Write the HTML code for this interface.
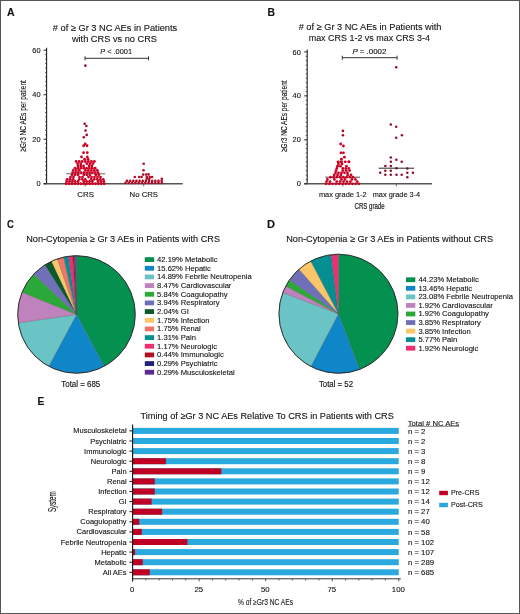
<!DOCTYPE html>
<html><head><meta charset="utf-8"><style>
html,body{margin:0;padding:0;background:#fff;}
svg{display:block;font-family:"Liberation Sans", sans-serif;will-change:transform;}
text:not([stroke]){stroke:#151515;stroke-width:0.12px;}
</style></head><body>
<svg width="520" height="614" viewBox="0 0 520 614">
<rect width="520" height="614" fill="#fff"/>
<rect x="0.5" y="0.5" width="519" height="613" fill="none" stroke="#555" stroke-width="1"/>
<text x="7.00" y="16.20" font-size="11" textLength="7.60" lengthAdjust="spacingAndGlyphs" font-weight="bold" fill="#111">A</text>
<text x="267.50" y="16.00" font-size="11" textLength="7.50" lengthAdjust="spacingAndGlyphs" font-weight="bold" fill="#111">B</text>
<text x="7.00" y="228.00" font-size="11" textLength="6.90" lengthAdjust="spacingAndGlyphs" font-weight="bold" fill="#111">C</text>
<text x="267.00" y="228.00" font-size="11" textLength="8.00" lengthAdjust="spacingAndGlyphs" font-weight="bold" fill="#111">D</text>
<text x="37.50" y="405.00" font-size="11" textLength="6.80" lengthAdjust="spacingAndGlyphs" font-weight="bold" fill="#111">E</text>
<text x="52.80" y="30.80" font-size="9.2" textLength="124.40" lengthAdjust="spacingAndGlyphs" fill="#151515"># of ≥ Gr 3 NC AEs in Patients</text>
<text x="71.90" y="41.60" font-size="9.2" textLength="85.10" lengthAdjust="spacingAndGlyphs" fill="#151515">with CRS vs no CRS</text>
<text x="298.70" y="30.40" font-size="9.2" textLength="142.80" lengthAdjust="spacingAndGlyphs" fill="#151515"># of ≥ Gr 3 NC AEs in Patients with</text>
<text x="308.70" y="41.20" font-size="9.2" textLength="121.30" lengthAdjust="spacingAndGlyphs" fill="#151515">max CRS 1-2 vs max CRS 3-4</text>
<text x="26.25" y="242.20" font-size="9.2" textLength="193.75" lengthAdjust="spacingAndGlyphs" fill="#151515">Non-Cytopenia ≥ Gr 3 AEs in Patients with CRS</text>
<text x="286.25" y="242.20" font-size="9.2" textLength="206.75" lengthAdjust="spacingAndGlyphs" fill="#151515">Non-Cytopenia ≥ Gr 3 AEs in Patients without CRS</text>
<text x="140.50" y="418.80" font-size="9.2" textLength="253.25" lengthAdjust="spacingAndGlyphs" fill="#151515">Timing of ≥Gr 3 NC AEs Relative To CRS in Patients with CRS</text>
<line x1="46.6" y1="47.70" x2="46.6" y2="183.75" stroke="#222" stroke-width="1.1"/>
<line x1="43.60" y1="183.75" x2="182.70" y2="183.75" stroke="#555" stroke-width="1.5"/>
<line x1="43.60" y1="183.75" x2="46.6" y2="183.75" stroke="#222" stroke-width="1"/>
<text x="40.60" y="186.35" font-size="7.4" text-anchor="end" fill="#151515">0</text>
<line x1="43.60" y1="139.23" x2="46.6" y2="139.23" stroke="#222" stroke-width="1"/>
<text x="40.60" y="141.83" font-size="7.4" text-anchor="end" fill="#151515">20</text>
<line x1="43.60" y1="94.72" x2="46.6" y2="94.72" stroke="#222" stroke-width="1"/>
<text x="40.60" y="97.32" font-size="7.4" text-anchor="end" fill="#151515">40</text>
<line x1="43.60" y1="50.20" x2="46.6" y2="50.20" stroke="#222" stroke-width="1"/>
<text x="40.60" y="52.80" font-size="7.4" text-anchor="end" fill="#151515">60</text>
<line x1="45.10" y1="179.30" x2="46.6" y2="179.30" stroke="#333" stroke-width="0.8"/>
<line x1="45.10" y1="174.85" x2="46.6" y2="174.85" stroke="#333" stroke-width="0.8"/>
<line x1="45.10" y1="170.40" x2="46.6" y2="170.40" stroke="#333" stroke-width="0.8"/>
<line x1="45.10" y1="165.94" x2="46.6" y2="165.94" stroke="#333" stroke-width="0.8"/>
<line x1="45.10" y1="161.49" x2="46.6" y2="161.49" stroke="#333" stroke-width="0.8"/>
<line x1="45.10" y1="157.04" x2="46.6" y2="157.04" stroke="#333" stroke-width="0.8"/>
<line x1="45.10" y1="152.59" x2="46.6" y2="152.59" stroke="#333" stroke-width="0.8"/>
<line x1="45.10" y1="148.14" x2="46.6" y2="148.14" stroke="#333" stroke-width="0.8"/>
<line x1="45.10" y1="143.69" x2="46.6" y2="143.69" stroke="#333" stroke-width="0.8"/>
<line x1="45.10" y1="134.78" x2="46.6" y2="134.78" stroke="#333" stroke-width="0.8"/>
<line x1="45.10" y1="130.33" x2="46.6" y2="130.33" stroke="#333" stroke-width="0.8"/>
<line x1="45.10" y1="125.88" x2="46.6" y2="125.88" stroke="#333" stroke-width="0.8"/>
<line x1="45.10" y1="121.43" x2="46.6" y2="121.43" stroke="#333" stroke-width="0.8"/>
<line x1="45.10" y1="116.97" x2="46.6" y2="116.97" stroke="#333" stroke-width="0.8"/>
<line x1="45.10" y1="112.52" x2="46.6" y2="112.52" stroke="#333" stroke-width="0.8"/>
<line x1="45.10" y1="108.07" x2="46.6" y2="108.07" stroke="#333" stroke-width="0.8"/>
<line x1="45.10" y1="103.62" x2="46.6" y2="103.62" stroke="#333" stroke-width="0.8"/>
<line x1="45.10" y1="99.17" x2="46.6" y2="99.17" stroke="#333" stroke-width="0.8"/>
<line x1="45.10" y1="90.26" x2="46.6" y2="90.26" stroke="#333" stroke-width="0.8"/>
<line x1="45.10" y1="85.81" x2="46.6" y2="85.81" stroke="#333" stroke-width="0.8"/>
<line x1="45.10" y1="81.36" x2="46.6" y2="81.36" stroke="#333" stroke-width="0.8"/>
<line x1="45.10" y1="76.91" x2="46.6" y2="76.91" stroke="#333" stroke-width="0.8"/>
<line x1="45.10" y1="72.46" x2="46.6" y2="72.46" stroke="#333" stroke-width="0.8"/>
<line x1="45.10" y1="68.01" x2="46.6" y2="68.01" stroke="#333" stroke-width="0.8"/>
<line x1="45.10" y1="63.55" x2="46.6" y2="63.55" stroke="#333" stroke-width="0.8"/>
<line x1="45.10" y1="59.10" x2="46.6" y2="59.10" stroke="#333" stroke-width="0.8"/>
<line x1="45.10" y1="54.65" x2="46.6" y2="54.65" stroke="#333" stroke-width="0.8"/>
<line x1="85.30" y1="183.75" x2="85.30" y2="186.25" stroke="#444" stroke-width="0.8"/>
<line x1="143.70" y1="183.75" x2="143.70" y2="186.25" stroke="#444" stroke-width="0.8"/>
<text transform="translate(26.20,115.90) rotate(-90)" x="0" y="0" font-size="9.3" text-anchor="middle" textLength="71.5" lengthAdjust="spacingAndGlyphs" fill="#151515" stroke="#151515" stroke-width="0.15">≥Gr3 NC AEs per patient</text>
<g stroke="#333" stroke-width="1"><line x1="85" y1="58.3" x2="148.5" y2="58.3"/><line x1="85" y1="56.3" x2="85" y2="60.3"/><line x1="148.5" y1="56.3" x2="148.5" y2="60.3"/></g>
<text x="100.2" y="53.9" font-size="7.4" textLength="31.8" lengthAdjust="spacingAndGlyphs" fill="#151515"><tspan font-style="italic">P</tspan> &lt; .0001</text>
<text x="85.60" y="196.90" font-size="7.8" text-anchor="middle" textLength="16.70" lengthAdjust="spacingAndGlyphs" fill="#151515">CRS</text>
<text x="143.80" y="196.90" font-size="7.8" text-anchor="middle" textLength="28.40" lengthAdjust="spacingAndGlyphs" fill="#151515">No CRS</text>
<line x1="66.2" y1="173.8" x2="105.2" y2="173.8" stroke="#666" stroke-width="1"/>
<circle cx="66.20" cy="183.75" r="1.4" fill="#cc0022"/>
<circle cx="69.12" cy="183.75" r="1.4" fill="#cc0022"/>
<circle cx="72.05" cy="183.75" r="1.4" fill="#cc0022"/>
<circle cx="74.97" cy="183.75" r="1.4" fill="#cc0022"/>
<circle cx="77.89" cy="183.75" r="1.4" fill="#cc0022"/>
<circle cx="80.82" cy="183.75" r="1.4" fill="#cc0022"/>
<circle cx="83.74" cy="183.75" r="1.4" fill="#cc0022"/>
<circle cx="86.66" cy="183.75" r="1.4" fill="#cc0022"/>
<circle cx="89.58" cy="183.75" r="1.4" fill="#cc0022"/>
<circle cx="92.51" cy="183.75" r="1.4" fill="#cc0022"/>
<circle cx="95.43" cy="183.75" r="1.4" fill="#cc0022"/>
<circle cx="98.35" cy="183.75" r="1.4" fill="#cc0022"/>
<circle cx="101.28" cy="183.75" r="1.4" fill="#cc0022"/>
<circle cx="104.20" cy="183.75" r="1.4" fill="#cc0022"/>
<circle cx="66.60" cy="181.52" r="1.4" fill="#cc0022"/>
<circle cx="69.46" cy="181.52" r="1.4" fill="#cc0022"/>
<circle cx="72.32" cy="181.52" r="1.4" fill="#cc0022"/>
<circle cx="75.18" cy="181.52" r="1.4" fill="#cc0022"/>
<circle cx="78.05" cy="181.52" r="1.4" fill="#cc0022"/>
<circle cx="83.77" cy="181.52" r="1.4" fill="#cc0022"/>
<circle cx="86.63" cy="181.52" r="1.4" fill="#cc0022"/>
<circle cx="89.49" cy="181.52" r="1.4" fill="#cc0022"/>
<circle cx="92.35" cy="181.52" r="1.4" fill="#cc0022"/>
<circle cx="98.08" cy="181.52" r="1.4" fill="#cc0022"/>
<circle cx="100.94" cy="181.52" r="1.4" fill="#cc0022"/>
<circle cx="103.80" cy="181.52" r="1.4" fill="#cc0022"/>
<circle cx="67.20" cy="179.30" r="1.4" fill="#cc0022"/>
<circle cx="70.20" cy="179.30" r="1.4" fill="#cc0022"/>
<circle cx="73.20" cy="179.30" r="1.4" fill="#cc0022"/>
<circle cx="79.20" cy="179.30" r="1.4" fill="#cc0022"/>
<circle cx="82.20" cy="179.30" r="1.4" fill="#cc0022"/>
<circle cx="85.20" cy="179.30" r="1.4" fill="#cc0022"/>
<circle cx="91.20" cy="179.30" r="1.4" fill="#cc0022"/>
<circle cx="94.20" cy="179.30" r="1.4" fill="#cc0022"/>
<circle cx="97.20" cy="179.30" r="1.4" fill="#cc0022"/>
<circle cx="100.20" cy="179.30" r="1.4" fill="#cc0022"/>
<circle cx="103.20" cy="179.30" r="1.4" fill="#cc0022"/>
<circle cx="70.50" cy="177.07" r="1.4" fill="#cc0022"/>
<circle cx="73.50" cy="177.07" r="1.4" fill="#cc0022"/>
<circle cx="79.50" cy="177.07" r="1.4" fill="#cc0022"/>
<circle cx="82.50" cy="177.07" r="1.4" fill="#cc0022"/>
<circle cx="88.50" cy="177.07" r="1.4" fill="#cc0022"/>
<circle cx="91.50" cy="177.07" r="1.4" fill="#cc0022"/>
<circle cx="94.50" cy="177.07" r="1.4" fill="#cc0022"/>
<circle cx="97.50" cy="177.07" r="1.4" fill="#cc0022"/>
<circle cx="100.50" cy="177.07" r="1.4" fill="#cc0022"/>
<circle cx="72.00" cy="174.85" r="1.4" fill="#cc0022"/>
<circle cx="74.98" cy="174.85" r="1.4" fill="#cc0022"/>
<circle cx="77.96" cy="174.85" r="1.4" fill="#cc0022"/>
<circle cx="83.91" cy="174.85" r="1.4" fill="#cc0022"/>
<circle cx="86.89" cy="174.85" r="1.4" fill="#cc0022"/>
<circle cx="89.87" cy="174.85" r="1.4" fill="#cc0022"/>
<circle cx="95.82" cy="174.85" r="1.4" fill="#cc0022"/>
<circle cx="98.80" cy="174.85" r="1.4" fill="#cc0022"/>
<circle cx="72.60" cy="172.62" r="1.4" fill="#cc0022"/>
<circle cx="75.42" cy="172.62" r="1.4" fill="#cc0022"/>
<circle cx="78.24" cy="172.62" r="1.4" fill="#cc0022"/>
<circle cx="81.07" cy="172.62" r="1.4" fill="#cc0022"/>
<circle cx="83.89" cy="172.62" r="1.4" fill="#cc0022"/>
<circle cx="86.71" cy="172.62" r="1.4" fill="#cc0022"/>
<circle cx="89.53" cy="172.62" r="1.4" fill="#cc0022"/>
<circle cx="92.36" cy="172.62" r="1.4" fill="#cc0022"/>
<circle cx="95.18" cy="172.62" r="1.4" fill="#cc0022"/>
<circle cx="98.00" cy="172.62" r="1.4" fill="#cc0022"/>
<circle cx="73.30" cy="170.40" r="1.4" fill="#cc0022"/>
<circle cx="76.30" cy="170.40" r="1.4" fill="#cc0022"/>
<circle cx="79.30" cy="170.40" r="1.4" fill="#cc0022"/>
<circle cx="85.30" cy="170.40" r="1.4" fill="#cc0022"/>
<circle cx="88.30" cy="170.40" r="1.4" fill="#cc0022"/>
<circle cx="91.30" cy="170.40" r="1.4" fill="#cc0022"/>
<circle cx="94.30" cy="170.40" r="1.4" fill="#cc0022"/>
<circle cx="97.30" cy="170.40" r="1.4" fill="#cc0022"/>
<circle cx="75.00" cy="168.17" r="1.4" fill="#cc0022"/>
<circle cx="77.89" cy="168.17" r="1.4" fill="#cc0022"/>
<circle cx="80.77" cy="168.17" r="1.4" fill="#cc0022"/>
<circle cx="83.66" cy="168.17" r="1.4" fill="#cc0022"/>
<circle cx="86.54" cy="168.17" r="1.4" fill="#cc0022"/>
<circle cx="89.43" cy="168.17" r="1.4" fill="#cc0022"/>
<circle cx="92.31" cy="168.17" r="1.4" fill="#cc0022"/>
<circle cx="95.20" cy="168.17" r="1.4" fill="#cc0022"/>
<circle cx="78.00" cy="165.94" r="1.4" fill="#cc0022"/>
<circle cx="80.76" cy="165.94" r="1.4" fill="#cc0022"/>
<circle cx="83.52" cy="165.94" r="1.4" fill="#cc0022"/>
<circle cx="89.04" cy="165.94" r="1.4" fill="#cc0022"/>
<circle cx="91.80" cy="165.94" r="1.4" fill="#cc0022"/>
<circle cx="77.60" cy="163.72" r="1.4" fill="#cc0022"/>
<circle cx="80.68" cy="163.72" r="1.4" fill="#cc0022"/>
<circle cx="86.84" cy="163.72" r="1.4" fill="#cc0022"/>
<circle cx="89.92" cy="163.72" r="1.4" fill="#cc0022"/>
<circle cx="93.00" cy="163.72" r="1.4" fill="#cc0022"/>
<circle cx="76.20" cy="161.49" r="1.4" fill="#cc0022"/>
<circle cx="79.23" cy="161.49" r="1.4" fill="#cc0022"/>
<circle cx="82.27" cy="161.49" r="1.4" fill="#cc0022"/>
<circle cx="85.30" cy="161.49" r="1.4" fill="#cc0022"/>
<circle cx="88.33" cy="161.49" r="1.4" fill="#cc0022"/>
<circle cx="91.37" cy="161.49" r="1.4" fill="#cc0022"/>
<circle cx="94.40" cy="161.49" r="1.4" fill="#cc0022"/>
<circle cx="84.60" cy="159.20" r="1.4" fill="#cc0022"/>
<circle cx="88.00" cy="159.20" r="1.4" fill="#cc0022"/>
<circle cx="81.50" cy="156.90" r="1.4" fill="#cc0022"/>
<circle cx="87.30" cy="156.90" r="1.4" fill="#cc0022"/>
<circle cx="83.50" cy="152.70" r="1.4" fill="#cc0022"/>
<circle cx="87.30" cy="152.70" r="1.4" fill="#cc0022"/>
<circle cx="83.70" cy="145.75" r="1.4" fill="#cc0022"/>
<circle cx="87.00" cy="145.75" r="1.4" fill="#cc0022"/>
<circle cx="85.20" cy="144.00" r="1.4" fill="#cc0022"/>
<circle cx="85.40" cy="65.65" r="1.3" fill="#a00a24"/>
<circle cx="84.70" cy="123.70" r="1.3" fill="#a00a24"/>
<circle cx="86.40" cy="126.00" r="1.3" fill="#a00a24"/>
<circle cx="85.50" cy="130.50" r="1.3" fill="#a00a24"/>
<circle cx="86.70" cy="134.90" r="1.3" fill="#a00a24"/>
<circle cx="83.80" cy="137.20" r="1.3" fill="#a00a24"/>
<circle cx="125.50" cy="182.90" r="1.3" fill="#b00a26"/>
<circle cx="128.80" cy="182.90" r="1.3" fill="#b00a26"/>
<circle cx="132.10" cy="182.90" r="1.3" fill="#b00a26"/>
<circle cx="135.40" cy="182.90" r="1.3" fill="#b00a26"/>
<circle cx="138.70" cy="182.90" r="1.3" fill="#b00a26"/>
<circle cx="142.00" cy="182.90" r="1.3" fill="#b00a26"/>
<circle cx="145.30" cy="182.90" r="1.3" fill="#b00a26"/>
<circle cx="148.60" cy="182.90" r="1.3" fill="#b00a26"/>
<circle cx="151.90" cy="182.90" r="1.3" fill="#b00a26"/>
<circle cx="155.20" cy="182.90" r="1.3" fill="#b00a26"/>
<circle cx="158.50" cy="182.90" r="1.3" fill="#b00a26"/>
<circle cx="161.80" cy="182.90" r="1.3" fill="#b00a26"/>
<circle cx="127.00" cy="180.90" r="1.3" fill="#b00a26"/>
<circle cx="130.15" cy="180.90" r="1.3" fill="#b00a26"/>
<circle cx="133.30" cy="180.90" r="1.3" fill="#b00a26"/>
<circle cx="136.45" cy="180.90" r="1.3" fill="#b00a26"/>
<circle cx="139.60" cy="180.90" r="1.3" fill="#b00a26"/>
<circle cx="142.75" cy="180.90" r="1.3" fill="#b00a26"/>
<circle cx="145.90" cy="180.90" r="1.3" fill="#b00a26"/>
<circle cx="149.05" cy="180.90" r="1.3" fill="#b00a26"/>
<circle cx="152.20" cy="180.90" r="1.3" fill="#b00a26"/>
<circle cx="155.35" cy="180.90" r="1.3" fill="#b00a26"/>
<circle cx="158.50" cy="180.90" r="1.3" fill="#b00a26"/>
<circle cx="161.65" cy="180.90" r="1.3" fill="#b00a26"/>
<circle cx="146.80" cy="178.80" r="1.3" fill="#b00a26"/>
<circle cx="149.30" cy="178.80" r="1.3" fill="#b00a26"/>
<circle cx="161.80" cy="178.80" r="1.3" fill="#b00a26"/>
<circle cx="134.80" cy="177.00" r="1.3" fill="#b00a26"/>
<circle cx="139.20" cy="177.00" r="1.3" fill="#b00a26"/>
<circle cx="141.60" cy="177.00" r="1.3" fill="#b00a26"/>
<circle cx="146.80" cy="177.00" r="1.3" fill="#b00a26"/>
<circle cx="149.70" cy="177.00" r="1.3" fill="#b00a26"/>
<circle cx="152.10" cy="177.00" r="1.3" fill="#b00a26"/>
<circle cx="143.20" cy="174.60" r="1.3" fill="#b00a26"/>
<circle cx="146.20" cy="174.60" r="1.3" fill="#b00a26"/>
<circle cx="148.60" cy="174.40" r="1.3" fill="#b00a26"/>
<circle cx="143.50" cy="170.20" r="1.3" fill="#b00a26"/>
<circle cx="143.70" cy="163.70" r="1.3" fill="#b00a26"/>
<line x1="307.2" y1="49.40" x2="307.2" y2="183.80" stroke="#222" stroke-width="1.1"/>
<line x1="304.20" y1="183.80" x2="432.00" y2="183.80" stroke="#555" stroke-width="1.5"/>
<line x1="304.20" y1="183.80" x2="307.2" y2="183.80" stroke="#222" stroke-width="1"/>
<text x="300.80" y="186.40" font-size="7.4" text-anchor="end" fill="#151515">0</text>
<line x1="304.20" y1="139.83" x2="307.2" y2="139.83" stroke="#222" stroke-width="1"/>
<text x="300.80" y="142.43" font-size="7.4" text-anchor="end" fill="#151515">20</text>
<line x1="304.20" y1="95.87" x2="307.2" y2="95.87" stroke="#222" stroke-width="1"/>
<text x="300.80" y="98.47" font-size="7.4" text-anchor="end" fill="#151515">40</text>
<line x1="304.20" y1="51.90" x2="307.2" y2="51.90" stroke="#222" stroke-width="1"/>
<text x="300.80" y="54.50" font-size="7.4" text-anchor="end" fill="#151515">60</text>
<line x1="305.70" y1="179.40" x2="307.2" y2="179.40" stroke="#333" stroke-width="0.8"/>
<line x1="305.70" y1="175.01" x2="307.2" y2="175.01" stroke="#333" stroke-width="0.8"/>
<line x1="305.70" y1="170.61" x2="307.2" y2="170.61" stroke="#333" stroke-width="0.8"/>
<line x1="305.70" y1="166.21" x2="307.2" y2="166.21" stroke="#333" stroke-width="0.8"/>
<line x1="305.70" y1="161.82" x2="307.2" y2="161.82" stroke="#333" stroke-width="0.8"/>
<line x1="305.70" y1="157.42" x2="307.2" y2="157.42" stroke="#333" stroke-width="0.8"/>
<line x1="305.70" y1="153.02" x2="307.2" y2="153.02" stroke="#333" stroke-width="0.8"/>
<line x1="305.70" y1="148.63" x2="307.2" y2="148.63" stroke="#333" stroke-width="0.8"/>
<line x1="305.70" y1="144.23" x2="307.2" y2="144.23" stroke="#333" stroke-width="0.8"/>
<line x1="305.70" y1="135.44" x2="307.2" y2="135.44" stroke="#333" stroke-width="0.8"/>
<line x1="305.70" y1="131.04" x2="307.2" y2="131.04" stroke="#333" stroke-width="0.8"/>
<line x1="305.70" y1="126.64" x2="307.2" y2="126.64" stroke="#333" stroke-width="0.8"/>
<line x1="305.70" y1="122.25" x2="307.2" y2="122.25" stroke="#333" stroke-width="0.8"/>
<line x1="305.70" y1="117.85" x2="307.2" y2="117.85" stroke="#333" stroke-width="0.8"/>
<line x1="305.70" y1="113.45" x2="307.2" y2="113.45" stroke="#333" stroke-width="0.8"/>
<line x1="305.70" y1="109.06" x2="307.2" y2="109.06" stroke="#333" stroke-width="0.8"/>
<line x1="305.70" y1="104.66" x2="307.2" y2="104.66" stroke="#333" stroke-width="0.8"/>
<line x1="305.70" y1="100.26" x2="307.2" y2="100.26" stroke="#333" stroke-width="0.8"/>
<line x1="305.70" y1="91.47" x2="307.2" y2="91.47" stroke="#333" stroke-width="0.8"/>
<line x1="305.70" y1="87.07" x2="307.2" y2="87.07" stroke="#333" stroke-width="0.8"/>
<line x1="305.70" y1="82.68" x2="307.2" y2="82.68" stroke="#333" stroke-width="0.8"/>
<line x1="305.70" y1="78.28" x2="307.2" y2="78.28" stroke="#333" stroke-width="0.8"/>
<line x1="305.70" y1="73.88" x2="307.2" y2="73.88" stroke="#333" stroke-width="0.8"/>
<line x1="305.70" y1="69.49" x2="307.2" y2="69.49" stroke="#333" stroke-width="0.8"/>
<line x1="305.70" y1="65.09" x2="307.2" y2="65.09" stroke="#333" stroke-width="0.8"/>
<line x1="305.70" y1="60.69" x2="307.2" y2="60.69" stroke="#333" stroke-width="0.8"/>
<line x1="305.70" y1="56.30" x2="307.2" y2="56.30" stroke="#333" stroke-width="0.8"/>
<line x1="342.90" y1="183.80" x2="342.90" y2="186.30" stroke="#444" stroke-width="0.8"/>
<line x1="396.30" y1="183.80" x2="396.30" y2="186.30" stroke="#444" stroke-width="0.8"/>
<text transform="translate(286.80,116.20) rotate(-90)" x="0" y="0" font-size="9.3" text-anchor="middle" textLength="71.5" lengthAdjust="spacingAndGlyphs" fill="#151515" stroke="#151515" stroke-width="0.15">≥Gr3 NC AEs per patient</text>
<g stroke="#333" stroke-width="1"><line x1="342.3" y1="57.7" x2="397.1" y2="57.7"/><line x1="342.3" y1="55.7" x2="342.3" y2="59.7"/><line x1="397.1" y1="55.7" x2="397.1" y2="59.7"/></g>
<text x="352.4" y="53.7" font-size="7.4" textLength="33.9" lengthAdjust="spacingAndGlyphs" fill="#151515"><tspan font-style="italic">P</tspan> = .0002</text>
<text x="318.90" y="197.00" font-size="7.4" textLength="47.80" lengthAdjust="spacingAndGlyphs" fill="#151515">max grade 1-2</text>
<text x="372.70" y="197.00" font-size="7.4" textLength="47.50" lengthAdjust="spacingAndGlyphs" fill="#151515">max grade 3-4</text>
<text x="354.60" y="209.40" font-size="8.6" textLength="30.00" lengthAdjust="spacingAndGlyphs" fill="#151515" stroke="#222" stroke-width="0.2">CRS grade</text>
<line x1="325.3" y1="177.2" x2="360" y2="177.2" stroke="#333" stroke-width="0.9"/>
<circle cx="326.00" cy="183.80" r="1.4" fill="#cc0022"/>
<circle cx="329.30" cy="183.80" r="1.4" fill="#cc0022"/>
<circle cx="332.60" cy="183.80" r="1.4" fill="#cc0022"/>
<circle cx="335.90" cy="183.80" r="1.4" fill="#cc0022"/>
<circle cx="339.20" cy="183.80" r="1.4" fill="#cc0022"/>
<circle cx="342.50" cy="183.80" r="1.4" fill="#cc0022"/>
<circle cx="345.80" cy="183.80" r="1.4" fill="#cc0022"/>
<circle cx="349.10" cy="183.80" r="1.4" fill="#cc0022"/>
<circle cx="352.40" cy="183.80" r="1.4" fill="#cc0022"/>
<circle cx="355.70" cy="183.80" r="1.4" fill="#cc0022"/>
<circle cx="359.00" cy="183.80" r="1.4" fill="#cc0022"/>
<circle cx="326.60" cy="181.60" r="1.4" fill="#cc0022"/>
<circle cx="330.00" cy="181.60" r="1.4" fill="#cc0022"/>
<circle cx="336.80" cy="181.60" r="1.4" fill="#cc0022"/>
<circle cx="340.20" cy="181.60" r="1.4" fill="#cc0022"/>
<circle cx="343.60" cy="181.60" r="1.4" fill="#cc0022"/>
<circle cx="347.00" cy="181.60" r="1.4" fill="#cc0022"/>
<circle cx="350.40" cy="181.60" r="1.4" fill="#cc0022"/>
<circle cx="357.20" cy="181.60" r="1.4" fill="#cc0022"/>
<circle cx="327.40" cy="179.40" r="1.4" fill="#cc0022"/>
<circle cx="334.40" cy="179.40" r="1.4" fill="#cc0022"/>
<circle cx="341.40" cy="179.40" r="1.4" fill="#cc0022"/>
<circle cx="344.90" cy="179.40" r="1.4" fill="#cc0022"/>
<circle cx="351.90" cy="179.40" r="1.4" fill="#cc0022"/>
<circle cx="355.40" cy="179.40" r="1.4" fill="#cc0022"/>
<circle cx="330.50" cy="177.21" r="1.4" fill="#cc0022"/>
<circle cx="333.71" cy="177.21" r="1.4" fill="#cc0022"/>
<circle cx="336.93" cy="177.21" r="1.4" fill="#cc0022"/>
<circle cx="340.14" cy="177.21" r="1.4" fill="#cc0022"/>
<circle cx="343.36" cy="177.21" r="1.4" fill="#cc0022"/>
<circle cx="346.57" cy="177.21" r="1.4" fill="#cc0022"/>
<circle cx="349.79" cy="177.21" r="1.4" fill="#cc0022"/>
<circle cx="353.00" cy="177.21" r="1.4" fill="#cc0022"/>
<circle cx="334.20" cy="175.01" r="1.4" fill="#cc0022"/>
<circle cx="337.56" cy="175.01" r="1.4" fill="#cc0022"/>
<circle cx="340.92" cy="175.01" r="1.4" fill="#cc0022"/>
<circle cx="347.64" cy="175.01" r="1.4" fill="#cc0022"/>
<circle cx="351.00" cy="175.01" r="1.4" fill="#cc0022"/>
<circle cx="335.50" cy="172.81" r="1.4" fill="#cc0022"/>
<circle cx="338.50" cy="172.81" r="1.4" fill="#cc0022"/>
<circle cx="341.50" cy="172.81" r="1.4" fill="#cc0022"/>
<circle cx="344.50" cy="172.81" r="1.4" fill="#cc0022"/>
<circle cx="347.50" cy="172.81" r="1.4" fill="#cc0022"/>
<circle cx="336.00" cy="170.61" r="1.4" fill="#cc0022"/>
<circle cx="342.80" cy="170.61" r="1.4" fill="#cc0022"/>
<circle cx="346.20" cy="170.61" r="1.4" fill="#cc0022"/>
<circle cx="349.60" cy="170.61" r="1.4" fill="#cc0022"/>
<circle cx="336.80" cy="168.41" r="1.4" fill="#cc0022"/>
<circle cx="342.80" cy="168.41" r="1.4" fill="#cc0022"/>
<circle cx="345.80" cy="168.41" r="1.4" fill="#cc0022"/>
<circle cx="348.80" cy="168.41" r="1.4" fill="#cc0022"/>
<circle cx="337.50" cy="166.21" r="1.4" fill="#cc0022"/>
<circle cx="340.50" cy="166.21" r="1.4" fill="#cc0022"/>
<circle cx="346.50" cy="166.21" r="1.4" fill="#cc0022"/>
<circle cx="338.50" cy="164.02" r="1.4" fill="#cc0022"/>
<circle cx="342.00" cy="164.02" r="1.4" fill="#cc0022"/>
<circle cx="338.00" cy="161.82" r="1.4" fill="#cc0022"/>
<circle cx="341.67" cy="161.82" r="1.4" fill="#cc0022"/>
<circle cx="345.33" cy="161.82" r="1.4" fill="#cc0022"/>
<circle cx="349.00" cy="161.82" r="1.4" fill="#cc0022"/>
<circle cx="340.50" cy="161.80" r="1.4" fill="#cc0022"/>
<circle cx="348.80" cy="161.80" r="1.4" fill="#cc0022"/>
<circle cx="341.40" cy="159.20" r="1.4" fill="#cc0022"/>
<circle cx="344.40" cy="157.20" r="1.4" fill="#cc0022"/>
<circle cx="341.00" cy="152.80" r="1.4" fill="#cc0022"/>
<circle cx="343.40" cy="152.80" r="1.4" fill="#cc0022"/>
<circle cx="343.40" cy="146.00" r="1.4" fill="#cc0022"/>
<circle cx="340.70" cy="144.00" r="1.4" fill="#cc0022"/>
<circle cx="342.90" cy="135.30" r="1.3" fill="#a00a24"/>
<circle cx="342.90" cy="130.90" r="1.3" fill="#a00a24"/>
<circle cx="396.20" cy="67.20" r="1.25" fill="#940a24"/>
<circle cx="390.80" cy="124.50" r="1.25" fill="#940a24"/>
<circle cx="396.20" cy="126.70" r="1.25" fill="#940a24"/>
<circle cx="401.90" cy="135.30" r="1.25" fill="#940a24"/>
<circle cx="396.20" cy="137.70" r="1.25" fill="#940a24"/>
<circle cx="390.80" cy="157.50" r="1.25" fill="#940a24"/>
<circle cx="396.30" cy="159.80" r="1.25" fill="#940a24"/>
<circle cx="390.80" cy="161.80" r="1.25" fill="#940a24"/>
<circle cx="401.70" cy="161.80" r="1.25" fill="#940a24"/>
<circle cx="385.30" cy="166.10" r="1.25" fill="#940a24"/>
<circle cx="390.80" cy="166.10" r="1.25" fill="#940a24"/>
<circle cx="396.50" cy="168.20" r="1.25" fill="#940a24"/>
<circle cx="407.30" cy="168.50" r="1.25" fill="#940a24"/>
<circle cx="385.30" cy="170.80" r="1.25" fill="#940a24"/>
<circle cx="390.80" cy="170.80" r="1.25" fill="#940a24"/>
<circle cx="380.20" cy="172.80" r="1.25" fill="#940a24"/>
<circle cx="407.30" cy="172.80" r="1.25" fill="#940a24"/>
<circle cx="412.90" cy="172.80" r="1.25" fill="#940a24"/>
<circle cx="385.30" cy="174.80" r="1.25" fill="#940a24"/>
<circle cx="390.80" cy="174.80" r="1.25" fill="#940a24"/>
<circle cx="396.50" cy="174.80" r="1.25" fill="#940a24"/>
<circle cx="401.70" cy="174.80" r="1.25" fill="#940a24"/>
<circle cx="407.30" cy="177.30" r="1.25" fill="#940a24"/>
<line x1="378.7" y1="168.2" x2="414.2" y2="168.2" stroke="#2a2a2a" stroke-width="1"/>
<path d="M76.50,314.45 L76.50,255.65 A58.8,58.8 0 0 1 104.20,366.32 Z" fill="#049150" stroke="#4a4a4a" stroke-width="0.25" stroke-linejoin="round"/>
<path d="M76.50,314.45 L104.20,366.32 A58.8,58.8 0 0 1 48.77,366.30 Z" fill="#0e86c8" stroke="#4a4a4a" stroke-width="0.25" stroke-linejoin="round"/>
<path d="M76.50,314.45 L48.77,366.30 A58.8,58.8 0 0 1 18.31,322.89 Z" fill="#6ac3c4" stroke="#4a4a4a" stroke-width="0.25" stroke-linejoin="round"/>
<path d="M76.50,314.45 L18.31,322.89 A58.8,58.8 0 0 1 22.07,292.19 Z" fill="#bf82bc" stroke="#4a4a4a" stroke-width="0.25" stroke-linejoin="round"/>
<path d="M76.50,314.45 L22.07,292.19 A58.8,58.8 0 0 1 33.68,274.15 Z" fill="#2aa838" stroke="#4a4a4a" stroke-width="0.25" stroke-linejoin="round"/>
<path d="M76.50,314.45 L33.68,274.15 A58.8,58.8 0 0 1 44.87,264.88 Z" fill="#7070b8" stroke="#4a4a4a" stroke-width="0.25" stroke-linejoin="round"/>
<path d="M76.50,314.45 L44.87,264.88 A58.8,58.8 0 0 1 51.46,261.25 Z" fill="#0b5a2a" stroke="#4a4a4a" stroke-width="0.25" stroke-linejoin="round"/>
<path d="M76.50,314.45 L51.46,261.25 A58.8,58.8 0 0 1 57.45,258.82 Z" fill="#fbc66a" stroke="#4a4a4a" stroke-width="0.25" stroke-linejoin="round"/>
<path d="M76.50,314.45 L57.45,258.82 A58.8,58.8 0 0 1 63.67,257.07 Z" fill="#f07468" stroke="#4a4a4a" stroke-width="0.25" stroke-linejoin="round"/>
<path d="M76.50,314.45 L63.67,257.07 A58.8,58.8 0 0 1 68.43,256.21 Z" fill="#068f92" stroke="#4a4a4a" stroke-width="0.25" stroke-linejoin="round"/>
<path d="M76.50,314.45 L68.43,256.21 A58.8,58.8 0 0 1 72.73,255.77 Z" fill="#ec2f72" stroke="#4a4a4a" stroke-width="0.25" stroke-linejoin="round"/>
<path d="M76.50,314.45 L72.73,255.77 A58.8,58.8 0 0 1 74.36,255.69 Z" fill="#b01020" stroke="#4a4a4a" stroke-width="0.25" stroke-linejoin="round"/>
<path d="M76.50,314.45 L74.36,255.69 A58.8,58.8 0 0 1 75.43,255.66 Z" fill="#20207a" stroke="#4a4a4a" stroke-width="0.25" stroke-linejoin="round"/>
<path d="M76.50,314.45 L75.43,255.66 A58.8,58.8 0 0 1 76.50,255.65 Z" fill="#5a2a90" stroke="#4a4a4a" stroke-width="0.25" stroke-linejoin="round"/>
<circle cx="76.5" cy="314.45" r="58.8" fill="none" stroke="#262626" stroke-width="0.9"/>
<rect x="144.8" y="257.20" width="9.3" height="4.8" fill="#049150"/>
<text x="157.10" y="262.10" font-size="7.6" fill="#151515">42.19% Metabolic</text>
<rect x="144.8" y="265.87" width="9.3" height="4.8" fill="#0e86c8"/>
<text x="157.10" y="270.77" font-size="7.6" fill="#151515">15.62% Hepatic</text>
<rect x="144.8" y="274.53" width="9.3" height="4.8" fill="#6ac3c4"/>
<text x="157.10" y="279.43" font-size="7.6" fill="#151515">14.89% Febrile Neutropenia</text>
<rect x="144.8" y="283.20" width="9.3" height="4.8" fill="#bf82bc"/>
<text x="157.10" y="288.10" font-size="7.6" fill="#151515">8.47% Cardiovascular</text>
<rect x="144.8" y="291.86" width="9.3" height="4.8" fill="#2aa838"/>
<text x="157.10" y="296.76" font-size="7.6" fill="#151515">5.84% Coagulopathy</text>
<rect x="144.8" y="300.53" width="9.3" height="4.8" fill="#7070b8"/>
<text x="157.10" y="305.43" font-size="7.6" fill="#151515">3.94% Respiratory</text>
<rect x="144.8" y="309.19" width="9.3" height="4.8" fill="#0b5a2a"/>
<text x="157.10" y="314.09" font-size="7.6" fill="#151515">2.04% GI</text>
<rect x="144.8" y="317.86" width="9.3" height="4.8" fill="#fbc66a"/>
<text x="157.10" y="322.75" font-size="7.6" fill="#151515">1.75% Infection</text>
<rect x="144.8" y="326.52" width="9.3" height="4.8" fill="#f07468"/>
<text x="157.10" y="331.42" font-size="7.6" fill="#151515">1.75% Renal</text>
<rect x="144.8" y="335.19" width="9.3" height="4.8" fill="#068f92"/>
<text x="157.10" y="340.09" font-size="7.6" fill="#151515">1.31% Pain</text>
<rect x="144.8" y="343.85" width="9.3" height="4.8" fill="#ec2f72"/>
<text x="157.10" y="348.75" font-size="7.6" fill="#151515">1.17% Neurologic</text>
<rect x="144.8" y="352.52" width="9.3" height="4.8" fill="#b01020"/>
<text x="157.10" y="357.42" font-size="7.6" fill="#151515">0.44% Immunologic</text>
<rect x="144.8" y="361.18" width="9.3" height="4.8" fill="#20207a"/>
<text x="157.10" y="366.08" font-size="7.6" fill="#151515">0.29% Psychiatric</text>
<rect x="144.8" y="369.85" width="9.3" height="4.8" fill="#5a2a90"/>
<text x="157.10" y="374.75" font-size="7.6" fill="#151515">0.29% Musculoskeletal</text>
<text x="61.30" y="386.60" font-size="8.3" textLength="38.90" lengthAdjust="spacingAndGlyphs" fill="#151515" stroke="#151515" stroke-width="0.15">Total = 685</text>
<path d="M338.45,313.75 L338.45,254.20 A59.55,59.55 0 0 1 359.57,369.43 Z" fill="#049150" stroke="#4a4a4a" stroke-width="0.25" stroke-linejoin="round"/>
<path d="M338.45,313.75 L359.57,369.43 A59.55,59.55 0 0 1 310.78,366.48 Z" fill="#0e86c8" stroke="#4a4a4a" stroke-width="0.25" stroke-linejoin="round"/>
<path d="M338.45,313.75 L310.78,366.48 A59.55,59.55 0 0 1 282.77,292.63 Z" fill="#6ac3c4" stroke="#4a4a4a" stroke-width="0.25" stroke-linejoin="round"/>
<path d="M338.45,313.75 L282.77,292.63 A59.55,59.55 0 0 1 285.72,286.08 Z" fill="#bf82bc" stroke="#4a4a4a" stroke-width="0.25" stroke-linejoin="round"/>
<path d="M338.45,313.75 L285.72,286.08 A59.55,59.55 0 0 1 289.43,279.94 Z" fill="#2aa838" stroke="#4a4a4a" stroke-width="0.25" stroke-linejoin="round"/>
<path d="M338.45,313.75 L289.43,279.94 A59.55,59.55 0 0 1 298.96,269.18 Z" fill="#7070b8" stroke="#4a4a4a" stroke-width="0.25" stroke-linejoin="round"/>
<path d="M338.45,313.75 L298.96,269.18 A59.55,59.55 0 0 1 310.78,261.02 Z" fill="#fbc66a" stroke="#4a4a4a" stroke-width="0.25" stroke-linejoin="round"/>
<path d="M338.45,313.75 L310.78,261.02 A59.55,59.55 0 0 1 331.28,254.63 Z" fill="#068f92" stroke="#4a4a4a" stroke-width="0.25" stroke-linejoin="round"/>
<path d="M338.45,313.75 L331.28,254.63 A59.55,59.55 0 0 1 338.45,254.20 Z" fill="#ec2f72" stroke="#4a4a4a" stroke-width="0.25" stroke-linejoin="round"/>
<circle cx="338.45" cy="313.75" r="59.55" fill="none" stroke="#262626" stroke-width="0.9"/>
<rect x="406.0" y="277.35" width="9.3" height="4.8" fill="#049150"/>
<text x="418.40" y="282.25" font-size="7.6" fill="#151515">44.23% Metabolic</text>
<rect x="406.0" y="285.91" width="9.3" height="4.8" fill="#0e86c8"/>
<text x="418.40" y="290.81" font-size="7.6" fill="#151515">13.46% Hepatic</text>
<rect x="406.0" y="294.47" width="9.3" height="4.8" fill="#6ac3c4"/>
<text x="418.40" y="299.37" font-size="7.6" fill="#151515">23.08% Febrile Neutropenia</text>
<rect x="406.0" y="303.03" width="9.3" height="4.8" fill="#bf82bc"/>
<text x="418.40" y="307.93" font-size="7.6" fill="#151515">1.92% Cardiovascular</text>
<rect x="406.0" y="311.59" width="9.3" height="4.8" fill="#2aa838"/>
<text x="418.40" y="316.49" font-size="7.6" fill="#151515">1.92% Coagulopathy</text>
<rect x="406.0" y="320.15" width="9.3" height="4.8" fill="#7070b8"/>
<text x="418.40" y="325.05" font-size="7.6" fill="#151515">3.85% Respiratory</text>
<rect x="406.0" y="328.71" width="9.3" height="4.8" fill="#fbc66a"/>
<text x="418.40" y="333.61" font-size="7.6" fill="#151515">3.85% Infection</text>
<rect x="406.0" y="337.27" width="9.3" height="4.8" fill="#068f92"/>
<text x="418.40" y="342.17" font-size="7.6" fill="#151515">5.77% Pain</text>
<rect x="406.0" y="345.83" width="9.3" height="4.8" fill="#ec2f72"/>
<text x="418.40" y="350.73" font-size="7.6" fill="#151515">1.92% Neurologic</text>
<text x="318.90" y="387.20" font-size="8.3" textLength="34.20" lengthAdjust="spacingAndGlyphs" fill="#151515" stroke="#151515" stroke-width="0.15">Total = 52</text>
<rect x="132.6" y="427.90" width="266.15" height="6.0" fill="#29a9de"/>
<line x1="129.4" y1="430.90" x2="132.60" y2="430.90" stroke="#1a1a1a" stroke-width="1"/>
<text x="126.60" y="433.40" font-size="7.5" text-anchor="end" fill="#151515">Musculoskeletal</text>
<text x="407.90" y="433.50" font-size="7.8" fill="#151515">n = 2</text>
<rect x="132.6" y="438.00" width="266.15" height="6.0" fill="#29a9de"/>
<line x1="129.4" y1="441.00" x2="132.60" y2="441.00" stroke="#1a1a1a" stroke-width="1"/>
<text x="126.60" y="443.50" font-size="7.5" text-anchor="end" fill="#151515">Psychiatric</text>
<text x="407.90" y="443.60" font-size="7.8" fill="#151515">n = 2</text>
<rect x="132.6" y="448.10" width="266.15" height="6.0" fill="#29a9de"/>
<line x1="129.4" y1="451.10" x2="132.60" y2="451.10" stroke="#1a1a1a" stroke-width="1"/>
<text x="126.60" y="453.60" font-size="7.5" text-anchor="end" fill="#151515">Immunologic</text>
<text x="407.90" y="453.70" font-size="7.8" fill="#151515">n = 3</text>
<rect x="132.6" y="458.20" width="266.15" height="6.0" fill="#29a9de"/>
<rect x="132.6" y="458.20" width="33.27" height="6.0" fill="#c00022"/>
<line x1="129.4" y1="461.20" x2="132.60" y2="461.20" stroke="#1a1a1a" stroke-width="1"/>
<text x="126.60" y="463.70" font-size="7.5" text-anchor="end" fill="#151515">Neurologic</text>
<text x="407.90" y="463.80" font-size="7.8" fill="#151515">n = 8</text>
<rect x="132.6" y="468.30" width="266.15" height="6.0" fill="#29a9de"/>
<rect x="132.6" y="468.30" width="88.72" height="6.0" fill="#c00022"/>
<line x1="129.4" y1="471.30" x2="132.60" y2="471.30" stroke="#1a1a1a" stroke-width="1"/>
<text x="126.60" y="473.80" font-size="7.5" text-anchor="end" fill="#151515">Pain</text>
<text x="407.90" y="473.90" font-size="7.8" fill="#151515">n = 9</text>
<rect x="132.6" y="478.40" width="266.15" height="6.0" fill="#29a9de"/>
<rect x="132.6" y="478.40" width="22.18" height="6.0" fill="#c00022"/>
<line x1="129.4" y1="481.40" x2="132.60" y2="481.40" stroke="#1a1a1a" stroke-width="1"/>
<text x="126.60" y="483.90" font-size="7.5" text-anchor="end" fill="#151515">Renal</text>
<text x="407.90" y="484.00" font-size="7.8" fill="#151515">n = 12</text>
<rect x="132.6" y="488.50" width="266.15" height="6.0" fill="#29a9de"/>
<rect x="132.6" y="488.50" width="22.18" height="6.0" fill="#c00022"/>
<line x1="129.4" y1="491.50" x2="132.60" y2="491.50" stroke="#1a1a1a" stroke-width="1"/>
<text x="126.60" y="494.00" font-size="7.5" text-anchor="end" fill="#151515">Infection</text>
<text x="407.90" y="494.10" font-size="7.8" fill="#151515">n = 12</text>
<rect x="132.6" y="498.60" width="266.15" height="6.0" fill="#29a9de"/>
<rect x="132.6" y="498.60" width="19.01" height="6.0" fill="#c00022"/>
<line x1="129.4" y1="501.60" x2="132.60" y2="501.60" stroke="#1a1a1a" stroke-width="1"/>
<text x="126.60" y="504.10" font-size="7.5" text-anchor="end" fill="#151515">GI</text>
<text x="407.90" y="504.20" font-size="7.8" fill="#151515">n = 14</text>
<rect x="132.6" y="508.70" width="266.15" height="6.0" fill="#29a9de"/>
<rect x="132.6" y="508.70" width="29.57" height="6.0" fill="#c00022"/>
<line x1="129.4" y1="511.70" x2="132.60" y2="511.70" stroke="#1a1a1a" stroke-width="1"/>
<text x="126.60" y="514.20" font-size="7.5" text-anchor="end" fill="#151515">Respiratory</text>
<text x="407.90" y="514.30" font-size="7.8" fill="#151515">n = 27</text>
<rect x="132.6" y="518.80" width="266.15" height="6.0" fill="#29a9de"/>
<rect x="132.6" y="518.80" width="6.65" height="6.0" fill="#c00022"/>
<line x1="129.4" y1="521.80" x2="132.60" y2="521.80" stroke="#1a1a1a" stroke-width="1"/>
<text x="126.60" y="524.30" font-size="7.5" text-anchor="end" fill="#151515">Coagulopathy</text>
<text x="407.90" y="524.40" font-size="7.8" fill="#151515">n = 40</text>
<rect x="132.6" y="528.90" width="266.15" height="6.0" fill="#29a9de"/>
<rect x="132.6" y="528.90" width="9.18" height="6.0" fill="#c00022"/>
<line x1="129.4" y1="531.90" x2="132.60" y2="531.90" stroke="#1a1a1a" stroke-width="1"/>
<text x="126.60" y="534.40" font-size="7.5" text-anchor="end" fill="#151515">Cardiovascular</text>
<text x="407.90" y="534.50" font-size="7.8" fill="#151515">n = 58</text>
<rect x="132.6" y="539.00" width="266.15" height="6.0" fill="#29a9de"/>
<rect x="132.6" y="539.00" width="54.80" height="6.0" fill="#c00022"/>
<line x1="129.4" y1="542.00" x2="132.60" y2="542.00" stroke="#1a1a1a" stroke-width="1"/>
<text x="126.60" y="544.50" font-size="7.5" text-anchor="end" fill="#151515">Febrile Neutropenia</text>
<text x="407.90" y="544.60" font-size="7.8" fill="#151515">n = 102</text>
<rect x="132.6" y="549.10" width="266.15" height="6.0" fill="#29a9de"/>
<rect x="132.6" y="549.10" width="2.49" height="6.0" fill="#c00022"/>
<line x1="129.4" y1="552.10" x2="132.60" y2="552.10" stroke="#1a1a1a" stroke-width="1"/>
<text x="126.60" y="554.60" font-size="7.5" text-anchor="end" fill="#151515">Hepatic</text>
<text x="407.90" y="554.70" font-size="7.8" fill="#151515">n = 107</text>
<rect x="132.6" y="559.20" width="266.15" height="6.0" fill="#29a9de"/>
<rect x="132.6" y="559.20" width="10.13" height="6.0" fill="#c00022"/>
<line x1="129.4" y1="562.20" x2="132.60" y2="562.20" stroke="#1a1a1a" stroke-width="1"/>
<text x="126.60" y="564.70" font-size="7.5" text-anchor="end" fill="#151515">Metabolic</text>
<text x="407.90" y="564.80" font-size="7.8" fill="#151515">n = 289</text>
<rect x="132.6" y="569.30" width="266.15" height="6.0" fill="#29a9de"/>
<rect x="132.6" y="569.30" width="17.10" height="6.0" fill="#c00022"/>
<line x1="129.4" y1="572.30" x2="132.60" y2="572.30" stroke="#1a1a1a" stroke-width="1"/>
<text x="126.60" y="574.80" font-size="7.5" text-anchor="end" fill="#151515">All AEs</text>
<text x="407.90" y="574.90" font-size="7.8" fill="#151515">n = 685</text>
<line x1="132.6" y1="424.4" x2="132.6" y2="581.4" stroke="#111" stroke-width="1.1"/>
<line x1="132.6" y1="578.8" x2="400.8" y2="578.8" stroke="#333" stroke-width="1"/>
<line x1="145.91" y1="578.8" x2="145.91" y2="580.40" stroke="#333" stroke-width="0.8"/>
<line x1="159.22" y1="578.8" x2="159.22" y2="580.40" stroke="#333" stroke-width="0.8"/>
<line x1="172.52" y1="578.8" x2="172.52" y2="580.40" stroke="#333" stroke-width="0.8"/>
<line x1="185.83" y1="578.8" x2="185.83" y2="580.40" stroke="#333" stroke-width="0.8"/>
<line x1="199.14" y1="578.8" x2="199.14" y2="581.40" stroke="#333" stroke-width="0.8"/>
<line x1="212.44" y1="578.8" x2="212.44" y2="580.40" stroke="#333" stroke-width="0.8"/>
<line x1="225.75" y1="578.8" x2="225.75" y2="580.40" stroke="#333" stroke-width="0.8"/>
<line x1="239.06" y1="578.8" x2="239.06" y2="580.40" stroke="#333" stroke-width="0.8"/>
<line x1="252.37" y1="578.8" x2="252.37" y2="580.40" stroke="#333" stroke-width="0.8"/>
<line x1="265.67" y1="578.8" x2="265.67" y2="581.40" stroke="#333" stroke-width="0.8"/>
<line x1="278.98" y1="578.8" x2="278.98" y2="580.40" stroke="#333" stroke-width="0.8"/>
<line x1="292.29" y1="578.8" x2="292.29" y2="580.40" stroke="#333" stroke-width="0.8"/>
<line x1="305.60" y1="578.8" x2="305.60" y2="580.40" stroke="#333" stroke-width="0.8"/>
<line x1="318.90" y1="578.8" x2="318.90" y2="580.40" stroke="#333" stroke-width="0.8"/>
<line x1="332.21" y1="578.8" x2="332.21" y2="581.40" stroke="#333" stroke-width="0.8"/>
<line x1="345.52" y1="578.8" x2="345.52" y2="580.40" stroke="#333" stroke-width="0.8"/>
<line x1="358.83" y1="578.8" x2="358.83" y2="580.40" stroke="#333" stroke-width="0.8"/>
<line x1="372.13" y1="578.8" x2="372.13" y2="580.40" stroke="#333" stroke-width="0.8"/>
<line x1="385.44" y1="578.8" x2="385.44" y2="580.40" stroke="#333" stroke-width="0.8"/>
<line x1="398.75" y1="578.8" x2="398.75" y2="581.40" stroke="#333" stroke-width="0.8"/>
<text x="132.20" y="591.80" font-size="7.8" text-anchor="middle" fill="#151515">0</text>
<text x="198.74" y="591.80" font-size="7.8" text-anchor="middle" fill="#151515">25</text>
<text x="265.27" y="591.80" font-size="7.8" text-anchor="middle" fill="#151515">50</text>
<text x="331.81" y="591.80" font-size="7.8" text-anchor="middle" fill="#151515">75</text>
<text x="398.35" y="591.80" font-size="7.8" text-anchor="middle" fill="#151515">100</text>
<text x="237.90" y="605.40" font-size="8.2" textLength="55.20" lengthAdjust="spacingAndGlyphs" fill="#151515" stroke="#222" stroke-width="0.1">% of ≥Gr3 NC AEs</text>
<text transform="translate(55.9,501.7) rotate(-90) scale(0.62,1)" x="0" y="0" font-size="10" text-anchor="middle" fill="#151515" stroke="#151515" stroke-width="0.15">System</text>
<text x="407.80" y="425.50" font-size="7.6" textLength="51.40" lengthAdjust="spacingAndGlyphs" fill="#151515">Total # NC AEs</text>
<line x1="407.8" y1="426.3" x2="459.2" y2="426.3" stroke="#333" stroke-width="0.6"/>
<rect x="439.2" y="490.8" width="8.7" height="4.4" fill="#c00022"/>
<rect x="439.2" y="502.8" width="8.7" height="4.4" fill="#29a9de"/>
<text x="450.90" y="495.10" font-size="7.9" textLength="28.60" lengthAdjust="spacingAndGlyphs" fill="#151515">Pre-CRS</text>
<text x="450.90" y="507.10" font-size="7.9" textLength="31.90" lengthAdjust="spacingAndGlyphs" fill="#151515">Post-CRS</text>
</svg>
</body></html>
